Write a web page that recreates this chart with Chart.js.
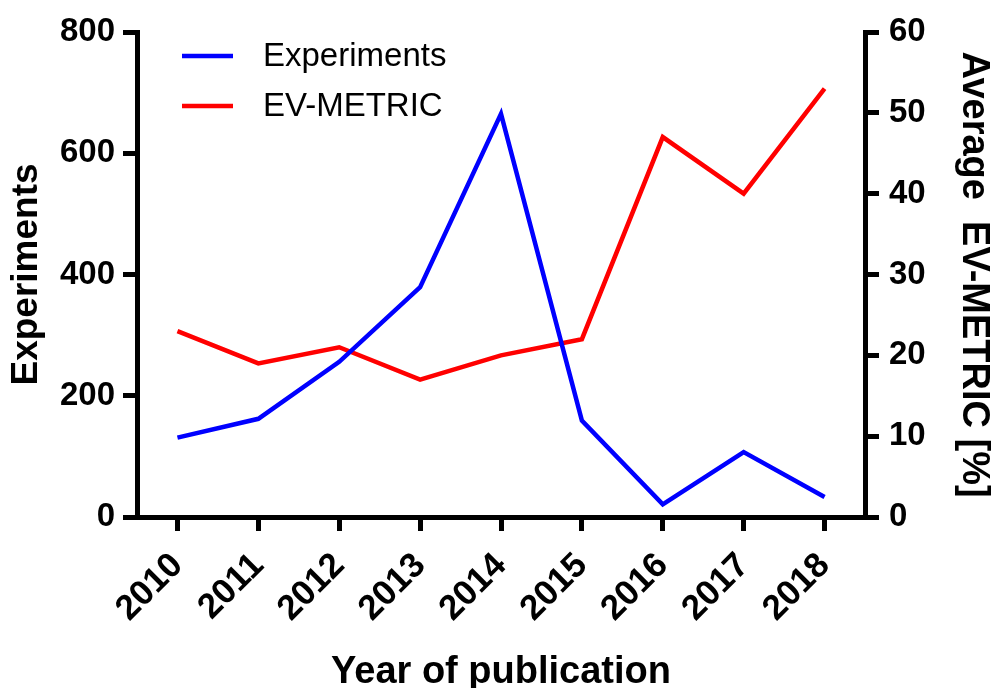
<!DOCTYPE html>
<html>
<head>
<meta charset="utf-8">
<script src="https://cdn.jsdelivr.net/npm/chart.js@4.4.1/dist/chart.umd.min.js"></script>
<style>
  html, body { margin: 0; padding: 0; background: #ffffff; }
  #wrap { width: 992px; height: 688px; }
</style>
</head>
<body>
<div id="wrap"><canvas id="c" width="992" height="688"></canvas></div>
<script>
// Publication years on the x axis
const years = ['2010', '2011', '2012', '2013', '2014', '2015', '2016', '2017', '2018'];
// Number of experiments per year (left axis)
const experiments = [131, 162, 256, 379, 665, 159, 21, 107, 33];
// Average EV-METRIC score in percent (right axis)
const evMetric = [23, 19, 21, 17, 20, 22, 47, 40, 53];
// Axis tick settings
const expTicks = { min: 0, max: 800, step: 200 };
const evTicks = { min: 0, max: 60, step: 10 };

const FONT = "'Liberation Sans', Arial, Helvetica, sans-serif";
const BLACK = '#000000';

// Legend drawn inside the plot: short line sample followed by the series name
const insideLegend = {
  id: 'insideLegend',
  afterDraw(chart) {
    const ctx = chart.ctx;
    const x0 = 182, len = 51, textX = 263;
    const rows = [56, 106];
    ctx.save();
    chart.data.datasets.forEach((ds, i) => {
      const y = rows[i];
      ctx.strokeStyle = ds.borderColor;
      ctx.lineWidth = 4.5;
      ctx.beginPath();
      ctx.moveTo(x0, y);
      ctx.lineTo(x0 + len, y);
      ctx.stroke();
      ctx.fillStyle = BLACK;
      ctx.font = "33px " + FONT;
      ctx.textBaseline = 'middle';
      ctx.textAlign = 'left';
      ctx.fillText(ds.label, textX, y + 1);
    });
    ctx.restore();
  }
};

const axisStyle = {
  grid: { display: true, drawOnChartArea: false, drawTicks: true, tickLength: 14, lineWidth: 5, color: BLACK },
  border: { display: true, width: 5, color: BLACK }
};

new Chart(document.getElementById('c'), {
  type: 'line',
  data: {
    labels: years,
    datasets: [
      {
        label: 'Experiments',
        data: experiments,
        yAxisID: 'y',
        borderColor: '#0000ff',
        borderWidth: 4.5,
        pointRadius: 0,
        tension: 0,
        borderJoinStyle: 'miter',
        fill: false
      },
      {
        label: 'EV-METRIC',
        data: evMetric,
        yAxisID: 'y1',
        borderColor: '#ff0000',
        borderWidth: 4.5,
        pointRadius: 0,
        tension: 0,
        borderJoinStyle: 'miter',
        fill: false
      }
    ]
  },
  options: {
    responsive: false,
    animation: false,
    devicePixelRatio: 1,
    layout: { padding: { top: 32, left: 0, right: 0, bottom: 0 } },
    plugins: { legend: { display: false }, tooltip: { enabled: false } },
    scales: {
      x: {
        type: 'category',
        offset: true,
        ...axisStyle,
        grid: { ...axisStyle.grid, offset: false },
        ticks: {
          color: BLACK,
          font: { family: FONT, size: 35, weight: 'bold' },
          maxRotation: 45,
          minRotation: 45,
          padding: 14,
          autoSkip: false
        },
        title: {
          display: true,
          text: 'Year of publication',
          color: BLACK,
          font: { family: FONT, size: 38, weight: 'bold', lineHeight: 0.8 },
          padding: { top: 0, bottom: 0 }
        },
        afterFit(scale) { scale.height = 171; }
      },
      y: {
        type: 'linear',
        position: 'left',
        min: expTicks.min,
        max: expTicks.max,
        ...axisStyle,
        ticks: {
          stepSize: expTicks.step,
          color: BLACK,
          font: { family: FONT, size: 33, weight: 'bold' },
          padding: 8
        },
        title: {
          display: true,
          text: 'Experiments',
          color: BLACK,
          font: { family: FONT, size: 37, weight: 'bold', lineHeight: 1 },
          padding: { top: 8, bottom: 0 }
        },
        afterFit(scale) { scale.width = 137; }
      },
      y1: {
        type: 'linear',
        position: 'right',
        min: evTicks.min,
        max: evTicks.max,
        ...axisStyle,
        ticks: {
          stepSize: evTicks.step,
          color: BLACK,
          font: { family: FONT, size: 33, weight: 'bold' },
          padding: 10
        },
        title: {
          display: true,
          text: 'Average  EV-METRIC [%]',
          color: BLACK,
          font: { family: FONT, size: 38, weight: 'bold', lineHeight: 1 },
          padding: { top: 0, bottom: 0 }
        },
        afterFit(scale) { scale.width = 127; }
      }
    }
  },
  plugins: [insideLegend]
});
</script>
</body>
</html>
